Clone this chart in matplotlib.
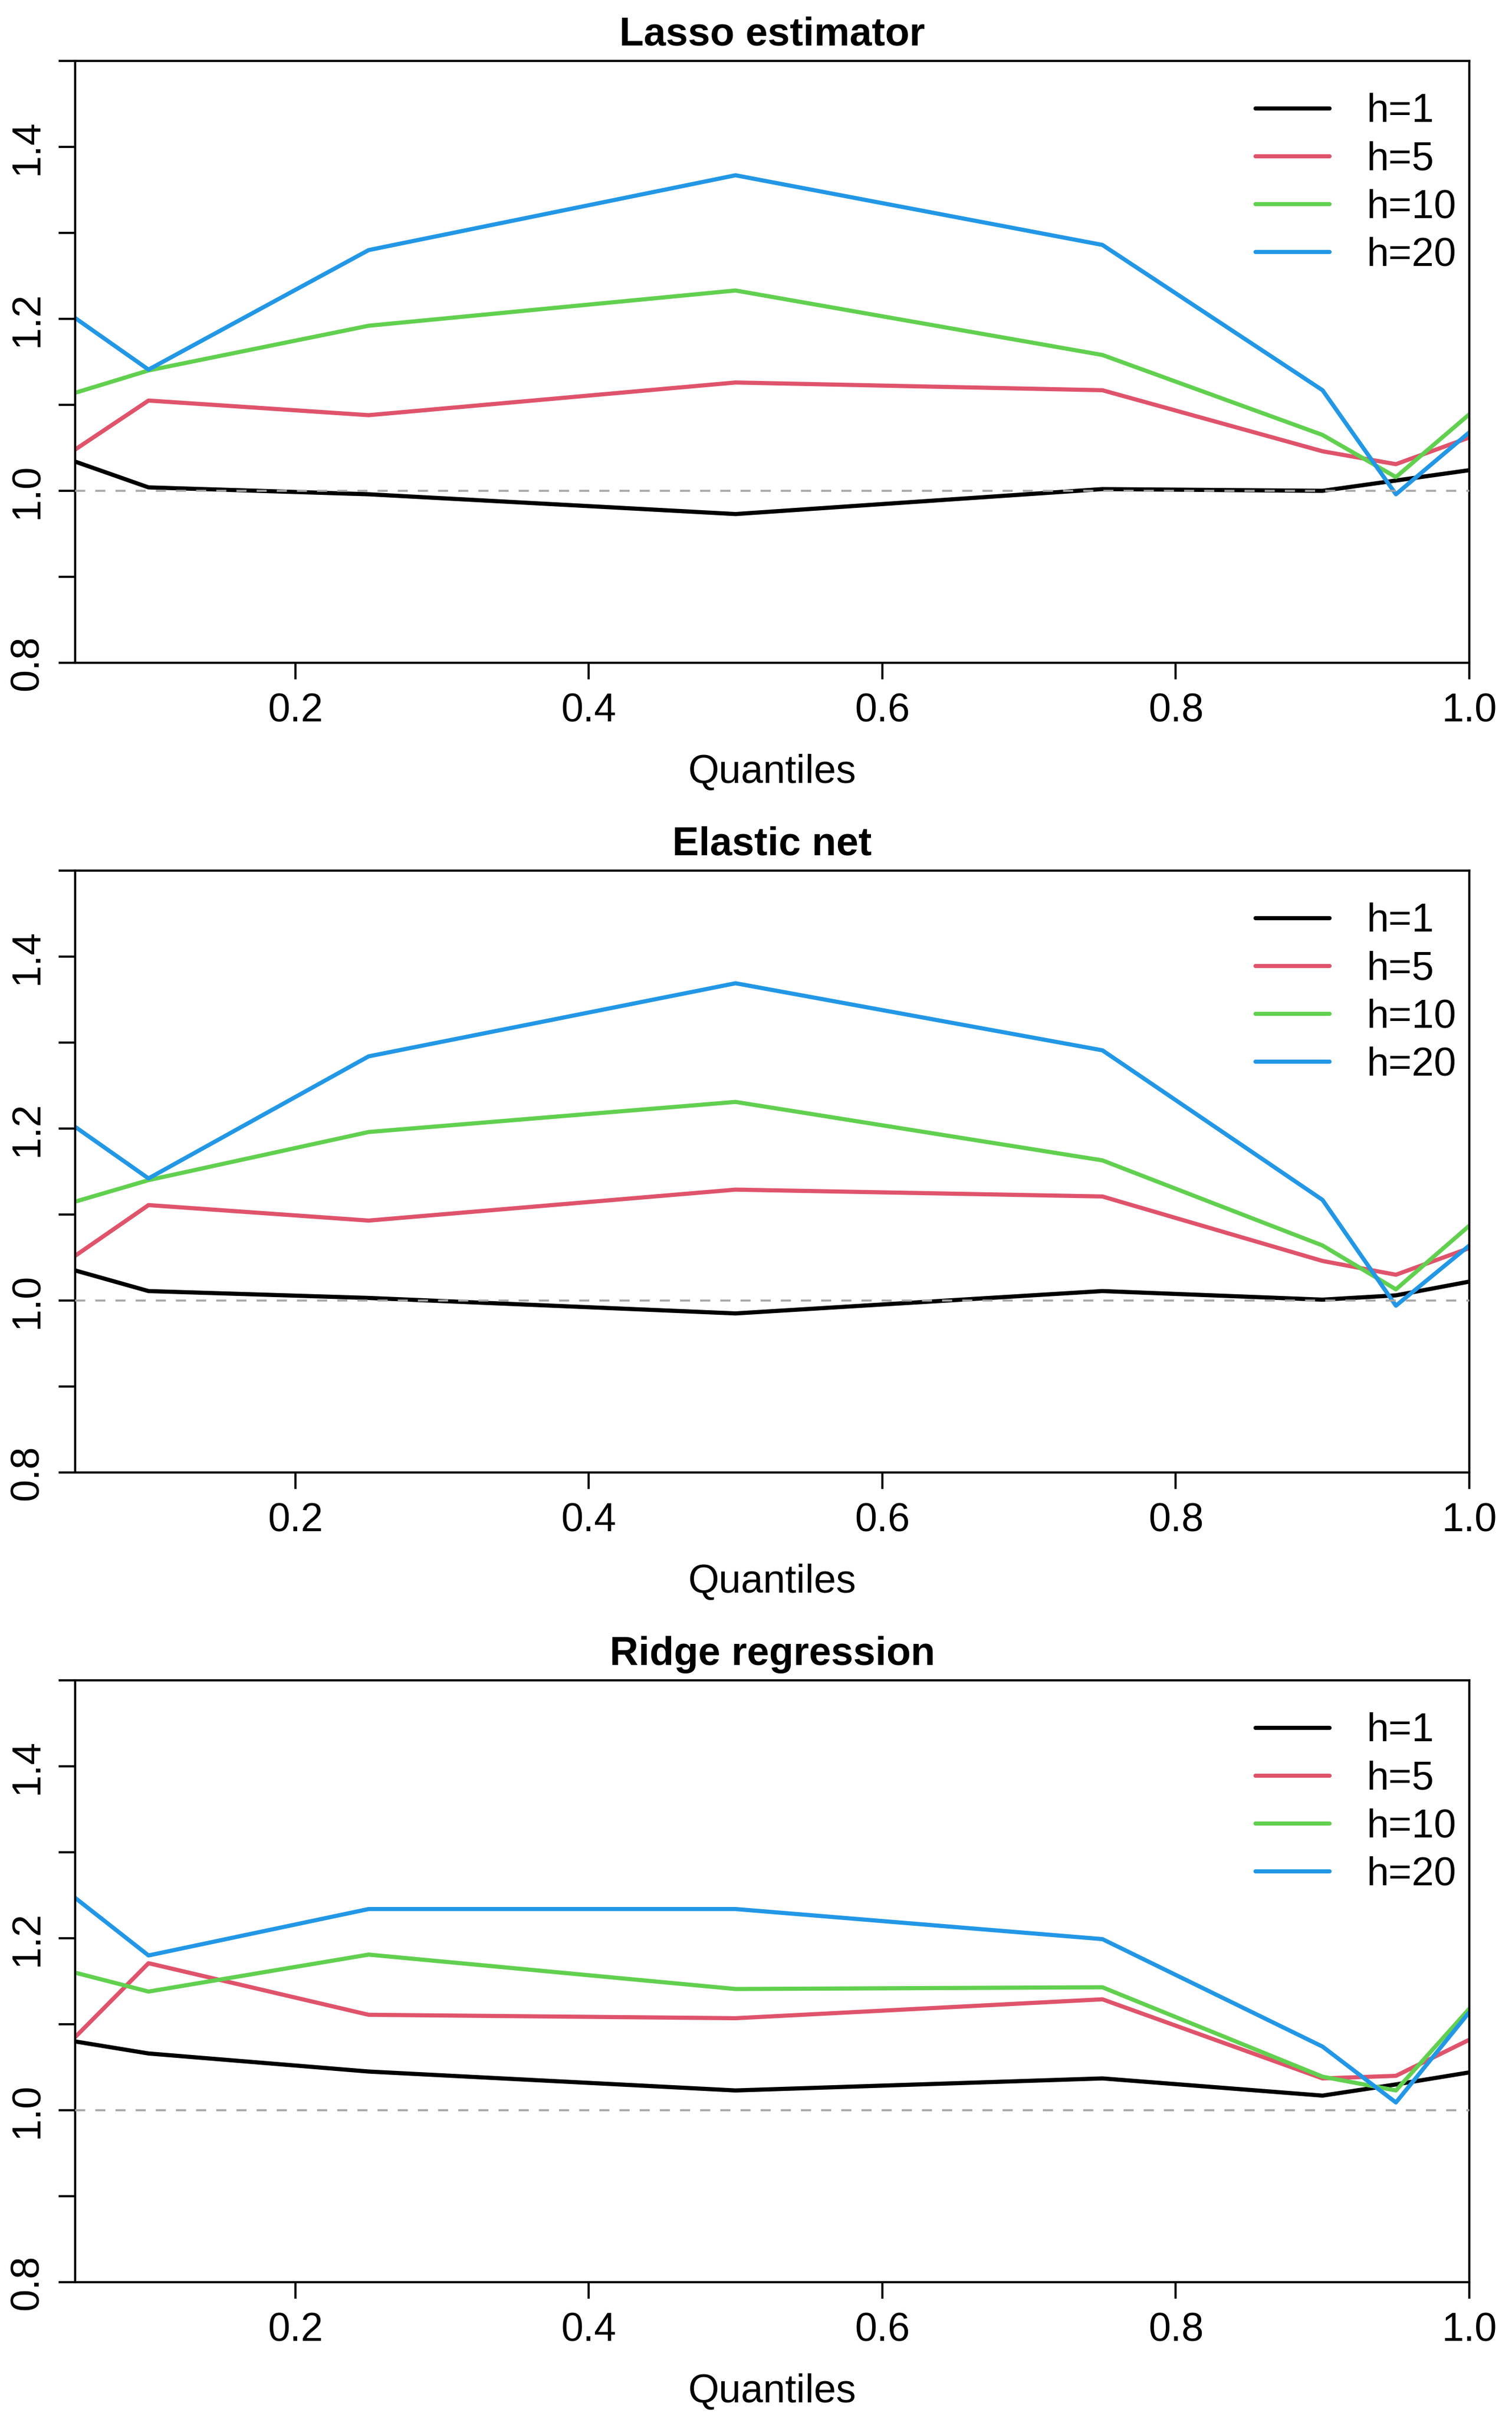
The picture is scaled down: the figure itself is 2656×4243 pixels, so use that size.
import matplotlib
matplotlib.use("Agg")
import matplotlib.pyplot as plt

# ---------------- data ----------------
quantiles = [0.05, 0.10, 0.25, 0.50, 0.75, 0.90, 0.95, 1.00]
horizons = ["h=1", "h=5", "h=10", "h=20"]
colors = ["#000000", "#DF536B", "#61D04F", "#2297E6"]
titles = ["Lasso estimator", "Elastic net", "Ridge regression"]

lasso_h1 = [1.034, 1.004, 0.996, 0.973, 1.002, 1.000, 1.012, 1.024]
lasso_h5 = [1.048, 1.105, 1.088, 1.126, 1.117, 1.046, 1.031, 1.062]
lasso_h10 = [1.114, 1.140, 1.192, 1.233, 1.158, 1.065, 1.016, 1.089]
lasso_h20 = [1.201, 1.141, 1.280, 1.367, 1.286, 1.117, 0.996, 1.068]

enet_h1 = [1.035, 1.011, 1.003, 0.985, 1.011, 1.001, 1.006, 1.022]
enet_h5 = [1.052, 1.111, 1.093, 1.129, 1.121, 1.046, 1.030, 1.061]
enet_h10 = [1.115, 1.140, 1.196, 1.231, 1.163, 1.064, 1.013, 1.087]
enet_h20 = [1.202, 1.142, 1.284, 1.369, 1.291, 1.117, 0.994, 1.064]

ridge_h1 = [1.080, 1.066, 1.045, 1.023, 1.037, 1.017, 1.030, 1.044]
ridge_h5 = [1.085, 1.171, 1.111, 1.107, 1.129, 1.037, 1.040, 1.082]
ridge_h10 = [1.160, 1.138, 1.181, 1.141, 1.143, 1.039, 1.023, 1.118]
ridge_h20 = [1.247, 1.180, 1.234, 1.234, 1.199, 1.074, 1.009, 1.114]

panels = [
    [lasso_h1, lasso_h5, lasso_h10, lasso_h20],
    [enet_h1, enet_h5, enet_h10, enet_h20],
    [ridge_h1, ridge_h5, ridge_h10, ridge_h20],
]

x_ticks = [0.2, 0.4, 0.6, 0.8, 1.0]
x_ticklabels = ["0.2", "0.4", "0.6", "0.8", "1.0"]
y_ticks = [0.8, 0.9, 1.0, 1.1, 1.2, 1.3, 1.4, 1.5]
y_ticklabels = ["0.8", "", "1.0", "", "1.2", "", "1.4", ""]

# ---------------- figure ----------------
W, H, DPI = 2656, 4243, 300
plt.rcParams["font.family"] = ["Liberation Sans", "DejaVu Sans"]
fig = plt.figure(figsize=(W / DPI, H / DPI), dpi=DPI)

FS = 16.8
left_px, right_px = 132, 2581
bottoms_px = [1164, 2586, 4008]
height_px = 1057

for i, (series, title) in enumerate(zip(panels, titles)):
    b = bottoms_px[i]
    ax = fig.add_axes([left_px / W, 1 - b / H, (right_px - left_px) / W, height_px / H])
    for vals, lab, col in zip(series, horizons, colors):
        ax.plot(quantiles, vals, color=col, lw=1.75, label=lab,
                solid_capstyle="round", solid_joinstyle="round")
    ax.axhline(1.0, color="#A6A6A6", lw=0.85, dashes=(5, 5), zorder=5)

    ax.set_xlim(0.05, 1.0)
    ax.set_ylim(0.8, 1.5)
    ax.set_xticks(x_ticks)
    ax.set_xticklabels(x_ticklabels, fontsize=FS)
    ax.set_yticks(y_ticks)
    ax.set_yticklabels(y_ticklabels, fontsize=FS, rotation=90, va="center")
    ax.tick_params(axis="both", direction="out", length=7, width=0.9, color="black")
    ax.tick_params(axis="x", pad=5.5)
    ax.tick_params(axis="y", pad=5)
    for sp in ax.spines.values():
        sp.set_linewidth(0.9)

    ax.set_title(title, fontsize=FS, fontweight="bold", pad=6.5)
    ax.set_xlabel("Quantiles", fontsize=FS, va="baseline")
    ax.xaxis.set_label_coords(0.5, (1164 - 1375) / height_px)

    leg = ax.legend(loc="upper left", bbox_to_anchor=(0.8465, 0.947),
                    frameon=False, fontsize=FS, handlelength=1.86,
                    handletextpad=0.93, labelspacing=0.26,
                    borderpad=0, borderaxespad=0)

fig.savefig("out.png", dpi=DPI)
